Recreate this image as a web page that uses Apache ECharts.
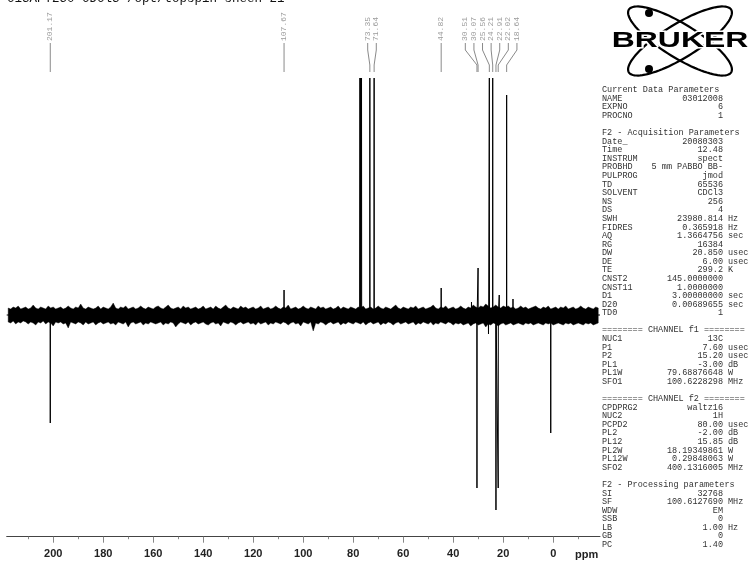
<!DOCTYPE html>
<html><head><meta charset="utf-8">
<script src="https://cdn.jsdelivr.net/npm/echarts@6/dist/echarts.min.js"></script>
<style>html,body{margin:0;padding:0;background:#fff;}#c{width:756px;height:561px;}</style>
</head><body><div id="c"></div>
<script>
// ---------- data ----------
const titleText = 'C13APT250 CDCl3 /opt/topspin sheen 21';
const peakPpm    = [201.17, 107.67, 77.32, 77.00, 76.68, 73.35, 71.64, 44.82, 32.70, 30.51, 30.07, 25.90, 25.56, 24.21, 22.91, 22.02, 21.60, 18.64, 16.10, 1.00];
const peakHeight = [-108,   25,     237,   237,   237,   237,   237,   27,    13,    -173,  47,    -19,   237,   237,   -195,  -173,  20,    220,   16,    -118];
const labelPpm = [201.17, 107.67, 73.35, 71.64, 44.82, 30.51, 30.07, 25.56, 24.21, 22.91, 22.02, 18.64];
const noiseStartPpm = 218, noiseStepPpm = 1;
const noiseUpper = [
  7,6,8,7,9,6,7,8,6,7,10,7,6,8,7,6,9,7,8,6,
  7,8,6,7,9,7,6,8,7,11,7,6,8,7,6,7,9,6,8,7,
  6,8,12,7,6,8,7,9,6,7,8,6,7,9,7,6,8,7,6,8,
  9,7,6,8,10,7,6,7,8,6,9,7,8,6,7,8,6,7,9,6,
  7,8,6,9,7,6,8,10,7,6,8,7,6,9,7,8,6,7,8,6,
  7,9,6,7,8,6,7,9,7,6,8,7,10,6,7,8,6,7,9,7,
  6,8,7,6,9,7,8,6,7,8,6,7,9,6,8,7,6,8,7,6,
  8,7,9,6,7,8,6,7,9,7,6,8,7,6,8,10,7,6,8,7,
  6,8,7,9,6,7,8,6,7,8,10,7,6,8,7,9,6,7,8,6,
  7,9,7,6,8,7,10,8,7,9,8,11,9,7,8,10,8,7,9,8,
  9,7,8,6,7,9,7,8,6,7,8,9,7,6,8,7,9,6,7,8,
  6,8,7,9,6,7,8,6,7,9,7,6,8,7,6,8,7];
const noiseLower = [
  -7,-8,-6,-9,-7,-8,-6,-7,-9,-7,-8,-10,-7,-8,-6,-9,-7,-8,-11,-7,
  -8,-7,-9,-8,-13,-7,-8,-9,-7,-8,-10,-7,-9,-8,-7,-10,-8,-7,-9,-8,
  -7,-9,-8,-10,-7,-8,-9,-7,-12,-8,-7,-9,-8,-7,-10,-8,-9,-7,-8,-9,
  -8,-7,-10,-8,-9,-7,-8,-12,-9,-7,-8,-9,-7,-10,-8,-7,-9,-8,-7,-9,
  -10,-8,-7,-9,-8,-11,-7,-8,-9,-7,-8,-10,-8,-7,-9,-8,-7,-9,-8,-10,
  -7,-9,-8,-7,-10,-8,-9,-7,-8,-9,-7,-8,-10,-8,-7,-9,-8,-11,-7,-8,
  -9,-7,-16,-8,-9,-7,-8,-10,-8,-7,-9,-8,-7,-10,-8,-9,-7,-8,-9,-7,
  -8,-9,-7,-10,-8,-7,-9,-8,-7,-10,-8,-9,-7,-8,-10,-8,-7,-9,-8,-7,
  -9,-8,-7,-10,-8,-9,-7,-8,-9,-7,-10,-8,-9,-7,-8,-9,-7,-8,-10,-8,
  -9,-8,-10,-9,-8,-11,-9,-8,-10,-9,-8,-12,-9,-10,-8,-9,-11,-9,-8,-10,
  -9,-8,-10,-9,-8,-9,-10,-8,-9,-8,-10,-9,-8,-9,-10,-8,-9,-8,-10,-9,
  -8,-9,-10,-8,-9,-8,-10,-9,-8,-9,-10,-8,-9,-8,-10,-9,-8];
const majorTicks = [0, 20, 40, 60, 80, 100, 120, 140, 160, 180, 200];
const minorTicks = [-10, 10, 30, 50, 70, 90, 110, 130, 150, 170, 190, 210];
const paramLines = [
  ['Current Data Parameters'], ['NAME','03012008'], ['EXPNO','6'], ['PROCNO','1'], [],
  ['F2 - Acquisition Parameters'], ['Date_','20080303'], ['Time','12.48'], ['INSTRUM','spect'],
  ['PROBHD','5 mm PABBO BB-'], ['PULPROG','jmod'], ['TD','65536'], ['SOLVENT','CDCl3'], ['NS','256'],
  ['DS','4'], ['SWH','23980.814','Hz'], ['FIDRES','0.365918','Hz'], ['AQ','1.3664756','sec'],
  ['RG','16384'], ['DW','20.850','usec'], ['DE','6.00','usec'], ['TE','299.2','K'],
  ['CNST2','145.0000000'], ['CNST11','1.0000000'], ['D1','3.00000000','sec'], ['D20','0.00689655','sec'],
  ['TD0','1'], [],
  ['======== CHANNEL f1 ========'], ['NUC1','13C'], ['P1','7.60','usec'], ['P2','15.20','usec'],
  ['PL1','-3.00','dB'], ['PL1W','79.68876648','W'], ['SFO1','100.6228298','MHz'], [],
  ['======== CHANNEL f2 ========'], ['CPDPRG2','waltz16'], ['NUC2','1H'], ['PCPD2','80.00','usec'],
  ['PL2','-2.00','dB'], ['PL12','15.85','dB'], ['PL2W','18.19349861','W'], ['PL12W','0.29848063','W'],
  ['SFO2','400.1316005','MHz'], [],
  ['F2 - Processing parameters'], ['SI','32768'], ['SF','100.6127690','MHz'], ['WDW','EM'],
  ['SSB','0'], ['LB','1.00','Hz'], ['GB','0'], ['PC','1.40']
];

// ---------- build ----------
const X_MIN = -18.7, X_MAX = 218.6;
const specData = [[X_MAX, 0]];
const order = peakPpm.map((p, i) => i).sort((a, b) => peakPpm[b] - peakPpm[a]);
order.forEach(i => {
  const p = peakPpm[i];
  specData.push([p + 0.06, 0], [p, peakHeight[i]], [p - 0.06, 0]);
});
specData.push([X_MIN, 0]);

const noisePpm = noiseUpper.map((v, i) => noiseStartPpm - i * noiseStepPpm);

// clusters for label layout
const clusters = [];
labelPpm.forEach((p, i) => {
  const last = clusters[clusters.length - 1];
  if (last && labelPpm[last[last.length - 1]] - p < 6) last.push(i); else clusters.push([i]);
});

const MONO = '"Liberation Mono", "DejaVu Sans Mono", monospace';
const graphics = [];
graphics.push({type:'text', left: 7, top: -8, style:{text: titleText, font: '12.5px ' + MONO, fill:'#111'}});
graphics.push({type:'text', left: 575, top: 549, style:{text:'ppm', font:'bold 11px "Liberation Sans", Arial, sans-serif', fill:'#222'}});

// parameter panel
const LINE0 = 90, LH = 8.58;
paramLines.forEach((ln, k) => {
  if (!ln.length) return;
  const y = LINE0 + k * LH;
  const st = {font: '8.5px ' + MONO, fill: '#333', verticalAlign: 'middle'};
  graphics.push({type:'text', x: 602, y: y, style: Object.assign({text: ln[0], align:'left'}, st), silent:true});
  if (ln[1] !== undefined) graphics.push({type:'text', x: 723, y: y, style: Object.assign({text: ln[1], align:'right'}, st), silent:true});
  if (ln[2] !== undefined) graphics.push({type:'text', x: 728, y: y, style: Object.assign({text: ln[2], align:'left'}, st), silent:true});
});

// Bruker logo
function ellipsePts(cx, cy, a, b, rot) {
  const pts = [];
  for (let t = 0; t < 96; t++) {
    const th = t / 96 * Math.PI * 2;
    const ex = a * Math.cos(th), ey = b * Math.sin(th);
    pts.push([cx + ex * Math.cos(rot) - ey * Math.sin(rot), cy + ex * Math.sin(rot) + ey * Math.cos(rot)]);
  }
  return pts;
}
const LCX = 680, LCY = 41;
graphics.push({type:'polygon', shape:{points: ellipsePts(LCX, LCY, 60, 17, 0.55)}, style:{fill:'none', stroke:'#000', lineWidth: 2.2}, silent:true});
graphics.push({type:'polygon', shape:{points: ellipsePts(LCX, LCY, 60, 17, -0.55)}, style:{fill:'none', stroke:'#000', lineWidth: 2.2}, silent:true});
graphics.push({type:'circle', shape:{cx: 649, cy: 13, r: 4}, style:{fill:'#000'}, silent:true});
graphics.push({type:'circle', shape:{cx: 649, cy: 69, r: 4}, style:{fill:'#000'}, silent:true});
graphics.push({type:'text', x: LCX, y: LCY, scaleX: 1.45, style:{text:'BRUKER', font:'900 22px "Liberation Sans", Arial, sans-serif', fill:'#000', stroke:'#fff', lineWidth: 3, align:'center', verticalAlign:'middle'}, silent:true});

const chart = echarts.init(document.getElementById('c'), null, {renderer:'canvas'});
const gridRect = {left: 6.7, right: 756 - 600, top: 0, bottom: 561 - 536.7};
chart.setOption({
  animation: false,
  backgroundColor: '#fff',
  grid: [Object.assign({}, gridRect), Object.assign({}, gridRect)],
  xAxis: [
    {type:'value', gridIndex:0, min:X_MIN, max:X_MAX, inverse:true, position:'bottom',
     axisLine:{show:true, onZero:false, lineStyle:{color:'#444', width:1}},
     axisTick:{show:true, customValues: majorTicks, length:6, lineStyle:{color:'#888'}},
     axisLabel:{show:true, customValues: majorTicks, margin:12, fontWeight:'bold', fontSize:11, color:'#222', fontFamily:'"Liberation Sans", Arial, sans-serif'},
     splitLine:{show:false}},
    {type:'value', gridIndex:1, min:X_MIN, max:X_MAX, inverse:true, position:'bottom',
     axisLine:{show:false, onZero:false},
     axisTick:{show:true, customValues: minorTicks, length:2.5, lineStyle:{color:'#888'}},
     axisLabel:{show:false}, splitLine:{show:false}}
  ],
  yAxis: [
    {type:'value', gridIndex:0, min:-221.7, max:315, show:false, splitLine:{show:false}},
    {type:'value', gridIndex:1, min:-221.7, max:315, show:false, splitLine:{show:false}}
  ],
  series: [
    {type:'custom', xAxisIndex:0, yAxisIndex:0, data:[0], silent:true,
     renderItem: function (params, api) {
       const up = noisePpm.map((p, i) => api.coord([p, noiseUpper[i]]));
       const lo = noisePpm.map((p, i) => api.coord([p, noiseLower[i]])).reverse();
       return {type:'polygon', shape:{points: up.concat(lo)}, style:{fill:'#000', stroke:'#000', lineWidth:0.4}};
     }},
    {type:'line', xAxisIndex:0, yAxisIndex:0, data: specData, showSymbol:false, symbol:'none', silent:true,
     lineStyle:{color:'#000', width:1}},
    {type:'custom', xAxisIndex:0, yAxisIndex:0, data: labelPpm, silent:true, clip:false,
     renderItem: function (params, api) {
       const i = params.dataIndex;
       const cl = clusters.find(c => c.indexOf(i) >= 0);
       const xs = cl.map(j => api.coord([labelPpm[j], 0])[0]);
       const mean = xs.reduce((a, b) => a + b, 0) / xs.length;
       const k = cl.indexOf(i);
       const px = api.coord([labelPpm[i], 0])[0];
       const lx = cl.length > 1 ? mean + (k - (cl.length - 1) / 2) * 8.6 : px;
       const pts = cl.length > 1 ? [[lx, 43], [lx, 50], [px, 65], [px, 72]] : [[px, 43], [px, 72]];
       return {type:'group', children:[
         {type:'polyline', shape:{points: pts}, style:{stroke:'#8a8a8a', lineWidth:1, fill:'none'}},
         {type:'text', x: lx, y: 41, rotation: Math.PI / 2,
          style:{text: labelPpm[i].toFixed(2), font:'8px ' + MONO, fill:'#9a9a9a', align:'left', verticalAlign:'middle'}}
       ]};
     }}
  ],
  graphic: graphics
});
</script></body></html>
